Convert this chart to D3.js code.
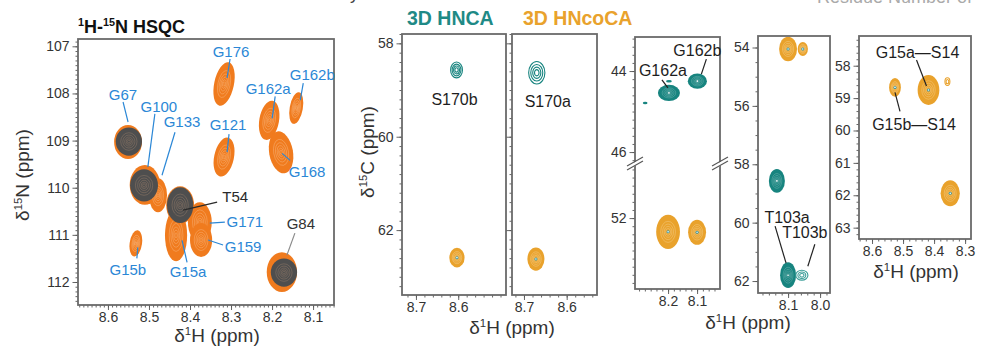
<!DOCTYPE html>
<html>
<head>
<meta charset="utf-8">
<script src="https://cdn.jsdelivr.net/npm/d3@7"></script>
<style>
  body { margin: 0; background: #fff; }
</style>
</head>
<body>
<div class="canvas"></div>
<script>
//////////////////////////////// data ////////////////////////////////

// 1H-15N HSQC, orange spectrum: name, 1H ppm, 15N ppm, half linewidths (ppm)
const hsqcNames = ['G67', 'G100', 'G133', 'T54', 'G15a', 'G171', 'G159', 'G15b', 'G176', 'G121', 'G162a', 'G162b', 'G168', 'G84'];
const hsqcH = [8.551, 8.510, 8.478, 8.424, 8.434, 8.376, 8.373, 8.532, 8.317, 8.317, 8.207, 8.141, 8.178, 8.176];
const hsqcN = [109.03, 109.94, 110.16, 110.37, 111.01, 110.73, 111.11, 111.18, 107.80, 109.35, 108.57, 108.31, 109.25, 111.79];
const hsqcLwH = [0.034, 0.037, 0.022, 0.034, 0.027, 0.029, 0.027, 0.015, 0.024, 0.024, 0.024, 0.016, 0.029, 0.037];
const hsqcLwN = [0.36, 0.42, 0.36, 0.40, 0.55, 0.42, 0.36, 0.28, 0.47, 0.42, 0.42, 0.34, 0.45, 0.42];

// overlaid spectrum (dark grey)
const refNames = ['G67', 'G100', 'T54', 'G84'];
const refH = [8.549, 8.512, 8.424, 8.171];
const refN = [109.02, 109.95, 110.37, 111.80];
const refLwH = [0.032, 0.034, 0.032, 0.032];
const refLwN = [0.30, 0.34, 0.38, 0.30];

// tick labels
const hsqcHTicks = [8.6, 8.5, 8.4, 8.3, 8.2, 8.1];
const hsqcNTicks = [107, 108, 109, 110, 111, 112];
const s170HTicks = [8.7, 8.6];
const s170CTicks = [58, 60, 62];
const g162HTicks = [8.2, 8.1];
const g162CTicks = [44, 46, 52];
const t103HTicks = [8.1, 8.0];
const t103CTicks = [54, 56, 58, 60, 62];
const g15HTicks = [8.6, 8.5, 8.4, 8.3];
const g15CTicks = [58, 59, 60, 61, 62, 63];

// 3D strips: [1H ppm, 13C ppm, half linewidth 1H, half linewidth 13C]
const s170bHnca = [[8.604, 58.57, 0.014, 0.17]];
const s170bHncoca = [[8.603, 62.59, 0.018, 0.21]];
const s170aHnca = [[8.670, 58.63, 0.019, 0.24]];
const s170aHncoca = [[8.672, 62.62, 0.020, 0.25]];
const g162Hnca = [[8.197, 44.54, 0.038, 0.20], [8.099, 44.25, 0.033, 0.19], [8.197, 44.25, 0.010, 0.03], [8.279, 44.79, 0.008, 0.03]];
const g162Hncoca = [[8.200, 52.34, 0.041, 0.42], [8.100, 52.35, 0.031, 0.31]];
const t103Hnca = [[8.135, 58.57, 0.025, 0.41], [8.100, 61.80, 0.025, 0.44], [8.057, 61.80, 0.019, 0.17]];
const t103Hncoca = [[8.100, 54.05, 0.028, 0.42], [8.054, 54.05, 0.016, 0.24]];
const g15Hncoca = [[8.526, 58.67, 0.019, 0.29], [8.418, 58.75, 0.035, 0.46], [8.348, 61.94, 0.031, 0.40], [8.357, 58.49, 0.008, 0.12]];

//////////////////////////////// styles / layout ////////////////////////////////

const FONT = '"Liberation Sans", Arial, Helvetica, sans-serif';
const ORANGE = '#f07b1e', GREY = '#4e4e4e', TEAL = '#17847f', GOLD = '#e9a22c', BLUE = '#2b87d6', INK = '#2a2a2a';

// peak shape tweaks (rotation in degrees)
const hsqcTilt = { G176: 12, G121: 12, G162a: 10, G162b: 10, G168: -10, G15b: 8 };

// label placement, px offsets from the peak centre; line = [x1, y1, x2, y2]
const hsqcLabelPos = {
  G176: { dx: 7, dy: -27, line: [6, -25, 3, -6] },
  G162a: { dx: -1, dy: -26, line: [6, -24, 3, -2] },
  G162b: { dx: 16, dy: -28, line: [7, -25, 4, -8] },
  G67: { dx: -5, dy: -42, line: [-5, -40, 0, -20] },
  G100: { dx: 14, dy: -73, line: [10, -71, 3, -18] },
  G133: { dx: 24, dy: -68, line: [17, -63, 4, -20] },
  G121: { dx: 4, dy: -27, line: [5, -23, 3, -5] },
  G168: { dx: 26, dy: 25, line: [9, 8, 1, 1] },
  T54: { dx: 55, dy: -3, line: [37, -3, 3, 5], color: INK },
  G171: { dx: 45, dy: 5, line: [25, 0, 10, 1] },
  G159: { dx: 42, dy: 12, line: [22, 5, 7, 0] },
  G84: { dx: 19, dy: -43, line: [13, -39, 5, -17], color: '#333', lineColor: '#8a8a8a' },
  G15b: { dx: -8, dy: 32, line: [1, 15, 2, 4] },
  G15a: { dx: 12, dy: 42, line: [11, 27, 6, 5] }
};

const minor = (a, b, step) => d3.range(Math.ceil(Math.min(a, b) / step - 1e-9), Math.floor(Math.max(a, b) / step + 1e-9) + 1)
  .map(i => +(i * step).toFixed(3));

//////////////////////////////// svg ////////////////////////////////

const svg = d3.select('.canvas')
  .append('svg')
  .attr('width', 984)
  .attr('height', 350)
  .style('font-family', FONT);

const defs = svg.append('defs');

function clipFor(id, f) {
  defs.append('clipPath').attr('id', id)
    .append('rect').attr('x', f.x).attr('y', f.y).attr('width', f.w).attr('height', f.h);
  return `url(#${id})`;
}

// text with superscripts, parts starting with ^ are raised
function richText(g, x, y, size, parts, o = {}) {
  const t = g.append('text')
    .attr('x', x).attr('y', y)
    .attr('font-size', size)
    .attr('text-anchor', o.anchor || 'start')
    .attr('fill', o.fill || INK)
    .attr('font-weight', o.weight || null);
  if (o.rotate) t.attr('transform', `rotate(${o.rotate},${x},${y})`);
  let raised = false;
  parts.forEach(p => {
    const sup = p.startsWith('^');
    const s = t.append('tspan').text(sup ? p.slice(1) : p);
    if (sup && !raised) { s.attr('font-size', size * 0.6).attr('dy', -size * 0.38); raised = true; }
    else if (sup) { s.attr('font-size', size * 0.6); }
    else if (raised) { s.attr('dy', size * 0.38); raised = false; }
  });
  return t;
}

// contour-like peak: filled blob with inner contour rings, or open rings
function drawPeak(g, cx, cy, rx, ry, st, tilt) {
  const p = g.append('g').attr('transform', `translate(${cx},${cy}) rotate(${tilt || 0})`);
  if (st.solid) {
    p.append('ellipse').attr('rx', rx).attr('ry', ry).attr('fill', st.color);
    [0.62, 0.46, 0.32, 0.2, 0.1].forEach(k => {
      p.append('ellipse').attr('rx', rx * k).attr('ry', ry * k)
        .attr('fill', 'none').attr('stroke', st.ring).attr('stroke-width', 0.6);
    });
  } else {
    (st.levels || [1, 0.74, 0.5, 0.28]).forEach(k => {
      p.append('ellipse').attr('rx', rx * k).attr('ry', ry * k)
        .attr('fill', 'none').attr('stroke', st.color).attr('stroke-width', 1.1);
    });
  }
  if (st.dot) p.append('circle').attr('r', 1.5).attr('fill', st.dot);
  if (st.spot) p.append('circle').attr('r', 0.8).attr('fill', st.spot);
}

function drawAxes(f, x, y, o) {
  const g = svg.append('g');
  const bottom = f.y + f.h;
  const axes = [
    [d3.axisBottom(x).tickValues(o.xMinor).tickSize(2.5).tickFormat(''), `translate(0,${bottom})`],
    [d3.axisBottom(x).tickValues(o.xTicks).tickSize(5).tickPadding(2).tickFormat(d3.format('.1f')), `translate(0,${bottom})`],
    [d3.axisLeft(y).tickValues(o.yMinor).tickSize(2.5).tickFormat(''), `translate(${f.x},0)`],
    [d3.axisLeft(y).tickValues(o.yTicks).tickSize(5.5).tickPadding(3).tickFormat(o.yLabels ? d3.format('d') : ''), `translate(${f.x},0)`]
  ];
  axes.forEach(([a, t]) => {
    const s = g.append('g').attr('transform', t).call(a);
    s.select('.domain').remove();
    s.selectAll('line').attr('stroke', '#555').attr('stroke-width', 0.9);
    s.selectAll('text').attr('font-size', 14).attr('fill', '#333').attr('font-family', FONT);
  });
  g.append('rect')
    .attr('x', f.x).attr('y', f.y).attr('width', f.w).attr('height', f.h)
    .attr('fill', 'none').attr('stroke', '#6a6a6a').attr('stroke-width', 1.8);
}

function breakMark(x0, y0) {
  const g = svg.append('g');
  g.append('path')
    .attr('d', `M${x0 - 7},${y0 + 2} L${x0 + 7},${y0 - 6} L${x0 + 7},${y0 - 2} L${x0 - 7},${y0 + 6} Z`)
    .attr('fill', '#fff');
  [0, 4].forEach(d => {
    g.append('line')
      .attr('x1', x0 - 8).attr('y1', y0 + 2 + d).attr('x2', x0 + 8).attr('y2', y0 - 7 + d)
      .attr('stroke', '#555').attr('stroke-width', 1.1);
  });
}

//////////////////////////////// HSQC panel ////////////////////////////////

const hsqcFrame = { x: 78, y: 39, w: 256, h: 266 };
const hx = d3.scaleLinear().domain([8.673, 8.049]).range([hsqcFrame.x, hsqcFrame.x + hsqcFrame.w]);
const hy = d3.scaleLinear().domain([106.845, 112.488]).range([hsqcFrame.y, hsqcFrame.y + hsqcFrame.h]);
const pxPerH = Math.abs(hx(8.6) - hx(8.5)) / 0.1;
const pxPerN = Math.abs(hy(108) - hy(107));

const hsqcPeaks = svg.append('g').attr('clip-path', clipFor('clipHsqc', hsqcFrame));

hsqcNames.forEach((name, i) => {
  drawPeak(hsqcPeaks, hx(hsqcH[i]), hy(hsqcN[i]), hsqcLwH[i] * pxPerH, hsqcLwN[i] * pxPerN,
    { solid: true, color: ORANGE, ring: 'rgba(255,232,205,0.42)' }, hsqcTilt[name]);
});
refNames.forEach((name, i) => {
  drawPeak(hsqcPeaks, hx(refH[i]), hy(refN[i]), refLwH[i] * pxPerH, refLwN[i] * pxPerN,
    { solid: true, color: GREY, ring: 'rgba(190,150,120,0.5)' });
});

drawAxes(hsqcFrame, hx, hy, {
  xTicks: hsqcHTicks, xMinor: minor(8.05, 8.67, 0.01),
  yTicks: hsqcNTicks, yMinor: minor(106.9, 112.4, 0.1), yLabels: true
});

// peak labels
const hsqcLabels = svg.append('g');
hsqcNames.forEach((name, i) => {
  const pos = hsqcLabelPos[name];
  const cx = hx(hsqcH[i]), cy = hy(hsqcN[i]);
  hsqcLabels.append('line')
    .attr('x1', cx + pos.line[0]).attr('y1', cy + pos.line[1])
    .attr('x2', cx + pos.line[2]).attr('y2', cy + pos.line[3])
    .attr('stroke', pos.lineColor || pos.color || BLUE).attr('stroke-width', 1.2);
  hsqcLabels.append('text')
    .attr('x', cx + pos.dx).attr('y', cy + pos.dy)
    .attr('text-anchor', 'middle')
    .attr('font-size', 15)
    .attr('fill', pos.color || BLUE)
    .text(name);
});

richText(svg, 78, 33, 18, ['^1', 'H-', '^15', 'N HSQC'], { weight: 'bold', fill: '#111' });
richText(svg, 29, 175, 19, ['δ', '^15', 'N (ppm)'], { anchor: 'middle', rotate: -90, fill: '#333' });
richText(svg, 217, 342, 19, ['δ', '^1', 'H (ppm)'], { anchor: 'middle', fill: '#333' });

//////////////////////////////// 3D strips ////////////////////////////////

const hncaRing = { solid: false, color: TEAL };
const hncaSolid = { solid: true, color: TEAL, ring: 'rgba(255,255,255,0.3)', spot: '#fff' };
const hncaFaint = { solid: false, color: '#3a9d98', levels: [1, 0.65, 0.35] };
const hncaDash = { solid: true, color: TEAL, ring: 'rgba(0,0,0,0)' };
const hncocaSolid = { solid: true, color: GOLD, ring: 'rgba(255,240,210,0.45)', dot: '#2a8f9a', spot: '#fff' };
const hncocaRing = { solid: false, color: GOLD, levels: [1, 0.55] };

const strips = [
  {
    id: 's170b', frame: { x: 402, y: 34, w: 104, h: 261 }, hDom: [8.733, 8.487],
    y: d3.scaleLinear().domain([57.8, 63.39]).range([34, 295]),
    xTicks: s170HTicks, xMinor: minor(8.49, 8.73, 0.02), yTicks: s170CTicks, yMinor: minor(57.8, 63.39, 0.2), yLabels: true,
    sets: [[s170bHncoca, [hncocaSolid]], [s170bHnca, [hncaRing]]]
  },
  {
    id: 's170a', frame: { x: 512, y: 34, w: 85, h: 261 }, hDom: [8.728, 8.529],
    y: d3.scaleLinear().domain([57.8, 63.39]).range([34, 295]),
    xTicks: s170HTicks, xMinor: minor(8.53, 8.72, 0.02), yTicks: s170CTicks, yMinor: minor(57.8, 63.39, 0.2), yLabels: false,
    sets: [[s170aHncoca, [hncocaSolid]], [s170aHnca, [hncaRing]]]
  },
  {
    id: 'g162', frame: { x: 635, y: 37, w: 85, h: 252 }, hDom: [8.314, 8.021],
    y: d3.scaleLinear().domain([43.16, 46.27, 50.69, 53.75]).range([37, 163, 165, 289]),
    xTicks: g162HTicks, xMinor: minor(8.03, 8.31, 0.02), yTicks: g162CTicks,
    yMinor: minor(43.2, 46.2, 0.2).concat(minor(50.8, 53.7, 0.2)), yLabels: true,
    sets: [[g162Hncoca, [hncocaSolid, hncocaSolid]], [g162Hnca, [hncaSolid, hncaSolid, hncaDash, hncaDash]]]
  },
  {
    id: 't103', frame: { x: 758, y: 36, w: 72, h: 257 }, hDom: [8.194, 7.969],
    y: d3.scaleLinear().domain([53.606, 62.41]).range([36, 293]),
    xTicks: t103HTicks, xMinor: minor(7.97, 8.19, 0.02), yTicks: t103CTicks, yMinor: minor(53.61, 62.4, 0.5), yLabels: true,
    sets: [[t103Hncoca, [hncocaSolid, hncocaSolid]], [t103Hnca, [hncaSolid, hncaSolid, hncaFaint]]]
  },
  {
    id: 'g15', frame: { x: 859, y: 36, w: 112, h: 203 }, hDom: [8.642, 8.281],
    y: d3.scaleLinear().domain([57.083, 63.35]).range([36, 239]),
    xTicks: g15HTicks, xMinor: minor(8.29, 8.64, 0.02), yTicks: g15CTicks, yMinor: minor(57.1, 63.3, 0.2), yLabels: true,
    sets: [[g15Hncoca, [hncocaSolid, hncocaSolid, hncocaSolid, hncocaRing]]]
  }
];

const stripLabels = [
  { panel: 's170b', text: 'S170b', set: 1, idx: 0, dx: -2, dy: 35 },
  { panel: 's170a', text: 'S170a', set: 1, idx: 0, dx: 11, dy: 34 },
  { panel: 'g162', text: 'G162a', set: 1, idx: 0, dx: -6, dy: -17, line: [-7, -13, -1, -5] },
  { panel: 'g162', text: 'G162b', set: 1, idx: 1, dx: 0, dy: -25, line: [9, -22, 4, -7] },
  { panel: 't103', text: 'T103a', set: 1, idx: 1, dx: -1, dy: -52, line: [-13, -49, -2, -12] },
  { panel: 't103', text: 'T103b', set: 1, idx: 2, dx: 3, dy: -37, line: [13, -31, 6, -9] },
  { panel: 'g15', text: 'G15a\u2014S14', set: 0, idx: 1, dx: -11, dy: -32, line: [-12, -30, -2, -4] },
  { panel: 'g15', text: 'G15b\u2014S14', set: 0, idx: 0, dx: 19, dy: 43, line: [5, 24, 0, 5] }
];

strips.forEach(s => {
  const f = s.frame;
  s.x = d3.scaleLinear().domain(s.hDom).range([f.x, f.x + f.w]);
  const pxH = Math.abs(s.x(8.1) - s.x(8.0)) / 0.1;
  const peaks = svg.append('g').attr('clip-path', clipFor('clip_' + s.id, f));
  s.sets.forEach(([data, styles]) => {
    data.forEach((d, i) => {
      const cy = s.y(d[1]);
      const pxC = Math.abs(s.y(d[1] + 0.05) - s.y(d[1] - 0.05)) / 0.1;
      drawPeak(peaks, s.x(d[0]), cy, d[2] * pxH, d[3] * pxC, styles[i]);
    });
  });
  drawAxes(f, s.x, s.y, s);
});

// broken 13C axis in the G162 strip
breakMark(635, 164);
breakMark(720, 164);

const stripText = svg.append('g');
stripLabels.forEach(l => {
  const s = strips.find(p => p.id === l.panel);
  const d = s.sets[l.set][0][l.idx];
  const cx = s.x(d[0]), cy = s.y(d[1]);
  if (l.line) {
    stripText.append('line')
      .attr('x1', cx + l.line[0]).attr('y1', cy + l.line[1])
      .attr('x2', cx + l.line[2]).attr('y2', cy + l.line[3])
      .attr('stroke', '#222').attr('stroke-width', 1.2);
  }
  stripText.append('text')
    .attr('x', cx + l.dx).attr('y', cy + l.dy)
    .attr('text-anchor', 'middle')
    .attr('font-size', 16)
    .attr('fill', '#1e1e1e')
    .text(l.text);
});

// headings and axis titles
svg.append('text').attr('x', 407).attr('y', 25).attr('font-size', 19.5).attr('font-weight', 'bold')
  .attr('fill', '#1f8a86').text('3D HNCA');
svg.append('text').attr('x', 523).attr('y', 25).attr('font-size', 19.5).attr('font-weight', 'bold')
  .attr('fill', GOLD).text('3D HNcoCA');

richText(svg, 374, 152, 19, ['δ', '^15', 'C (ppm)'], { anchor: 'middle', rotate: -90, fill: '#333' });
richText(svg, 512, 334, 19, ['δ', '^1', 'H (ppm)'], { anchor: 'middle', fill: '#333' });
richText(svg, 748, 329, 19, ['δ', '^1', 'H (ppm)'], { anchor: 'middle', fill: '#333' });
richText(svg, 916, 278, 19, ['δ', '^1', 'H (ppm)'], { anchor: 'middle', fill: '#333' });

// text cut off at the top edge of the figure, as in the source image
svg.append('text').attr('x', 817).attr('y', 3).attr('font-size', 18).attr('fill', '#aaa').text('Residue Number of');
svg.append('text').attr('x', 350).attr('y', -1).attr('font-size', 18).attr('fill', '#444').text('y');
</script>
</body>
</html>
